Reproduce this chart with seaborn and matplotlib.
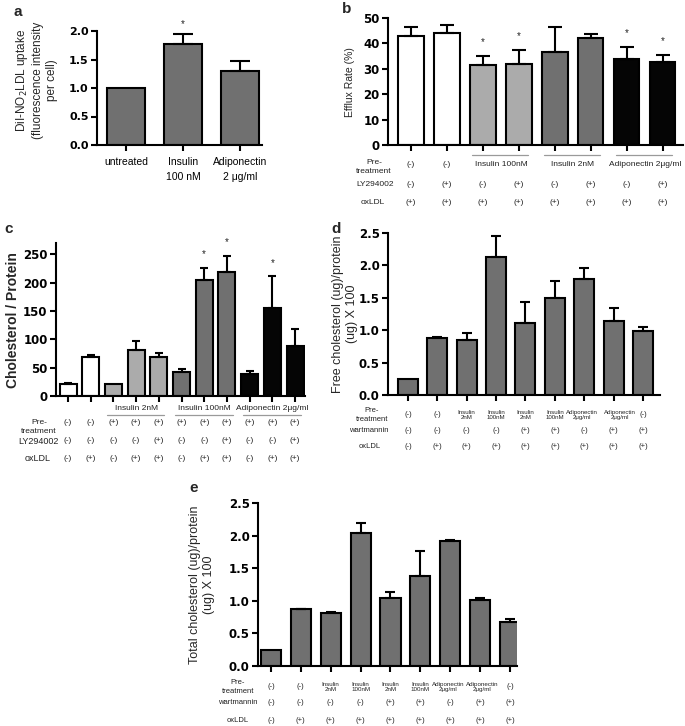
import numpy as np
import pandas as pd
import matplotlib
matplotlib.use("Agg")
import matplotlib.pyplot as plt
import matplotlib.transforms as mtransforms
from matplotlib.lines import Line2D
from matplotlib.ticker import FormatStrFormatter
import seaborn as sns

# ---- data ----
# panel a
a_labels = ["untreated", "Insulin\n100 nM", "Adiponectin\n2 μg/ml"]
a_mean = [1.0, 1.78, 1.30]
a_err = [0.0, 0.17, 0.18]
a_star = [False, True, False]

# panel b
b_mean = [43.0, 44.1, 31.6, 31.9, 36.6, 42.1, 33.9, 32.7]
b_err = [3.4, 3.3, 3.6, 5.6, 9.8, 1.6, 4.7, 2.9]
b_star = [False, False, True, True, False, False, True, True]
b_pre = ["(-)", "(-)", "", "", "", "", "", ""]
b_groups = [("Insulin 100nM", 2, 3), ("Insulin 2nM", 4, 5), ("Adiponectin 2μg/ml", 6, 7)]
b_ly = ["(-)", "(+)", "(-)", "(+)", "(-)", "(+)", "(-)", "(+)"]
b_ox = ["(+)", "(+)", "(+)", "(+)", "(+)", "(+)", "(+)", "(+)"]

# panel c
c_mean = [22, 68, 21, 82, 68, 42, 204, 218, 39, 156, 89]
c_err = [1, 4, 0, 15, 7, 5, 22, 29, 5, 55, 30]
c_star = [False, False, False, False, False, False, True, True, False, True, False]
c_pre = ["(-)", "(-)", "(+)", "(+)", "(+)", "(+)", "(+)", "(+)", "(+)", "(+)", "(+)"]
c_groups = [("Insulin 2nM", 2, 4), ("Insulin 100nM", 5, 7), ("Adiponectin 2μg/ml", 8, 10)]
c_ly = ["(-)", "(-)", "(-)", "(-)", "(+)", "(-)", "(-)", "(+)", "(-)", "(-)", "(+)"]
c_ox = ["(-)", "(+)", "(-)", "(+)", "(+)", "(-)", "(+)", "(+)", "(-)", "(+)", "(+)"]

# panel d
d_mean = [0.24, 0.88, 0.855, 2.13, 1.11, 1.49, 1.79, 1.14, 0.99]
d_err = [0.0, 0.01, 0.095, 0.33, 0.32, 0.27, 0.17, 0.21, 0.06]

# panel e
e_mean = [0.25, 0.87, 0.81, 2.04, 1.04, 1.38, 1.91, 1.01, 0.68]
e_err = [0.0, 0.005, 0.015, 0.16, 0.10, 0.38, 0.025, 0.03, 0.04]

de_pre = ["(-)", "(-)", "Insulin\n2nM", "Insulin\n100nM", "Insulin\n2nM", "Insulin\n100nM",
          "Adiponectin\n2μg/ml", "Adiponectin\n2μg/ml", "(-)"]
de_wort = ["(-)", "(-)", "(-)", "(-)", "(+)", "(+)", "(-)", "(+)", "(+)"]
de_ox = ["(-)", "(+)", "(+)", "(+)", "(+)", "(+)", "(+)", "(+)", "(+)"]

# ---- style ----
WHITE, LIGHT, DARK, BLACK = "#ffffff", "#ababab", "#707070", "#050505"
TXT = "#222222"

sns.set_theme(style="ticks", rc={"axes.edgecolor": "black", "xtick.color": "black",
                                 "ytick.color": "black", "axes.linewidth": 1.5})
plt.rcParams["font.family"] = ["Liberation Sans", "DejaVu Sans"]

W, H = 685, 726
fig = plt.figure(figsize=(W / 100, H / 100), dpi=100)


def add_ax(left, top, right, bottom):
    return fig.add_axes([left / W, 1 - bottom / H, (right - left) / W, (bottom - top) / H])


def draw_bars(ax, mean, err, colors, width, capsize, xlim, ylim, yticks, fmt=None,
              tick_size=8.5):
    n = len(mean)
    keys = [str(i) for i in range(n)]
    df = pd.DataFrame({"k": keys, "v": mean})
    sns.barplot(data=df, x="k", y="v", hue="k", order=keys, hue_order=keys,
                palette=dict(zip(keys, colors)), dodge=False, legend=False,
                width=width, edgecolor="black", linewidth=1.5, errorbar=None,
                saturation=1, ax=ax)
    pos = np.arange(n)
    e = np.array(err, dtype=float)
    m = e > 0
    ax.errorbar(pos[m], np.array(mean, dtype=float)[m],
                yerr=[np.zeros(m.sum()), e[m]], fmt="none", ecolor="black",
                elinewidth=1.5, capsize=capsize, capthick=1.5, zorder=3)
    ax.set_xlim(*xlim)
    ax.set_ylim(*ylim)
    ax.set_yticks(yticks)
    if fmt:
        ax.yaxis.set_major_formatter(FormatStrFormatter(fmt))
    ax.set_xlabel("")
    ax.set_ylabel("")
    sns.despine(ax=ax)
    ax.tick_params(axis="both", length=4, width=1.5)
    ax.tick_params(axis="y", labelsize=tick_size, pad=2)
    for t in ax.get_yticklabels():
        t.set_fontweight("bold")
        t.set_family("DejaVu Sans")
    ax.set_xticks(pos)
    ax.set_xticklabels([])


def stars(ax, mean, err, flags, offset):
    for i, f in enumerate(flags):
        if f:
            ax.text(i, mean[i] + err[i] + offset, "*", ha="center", va="center",
                    fontsize=7, color=TXT, clip_on=False)


def row(ax, y_px, labels, fs=6, ls=1.0, small=None, shift=None):
    tr = mtransforms.blended_transform_factory(ax.transData, fig.transFigure)
    shift = shift or {}
    for i, s in enumerate(labels):
        if s:
            size = small if (small and "\n" in s) else fs
            fig.text(i + shift.get(i, 0), 1 - y_px / H, s, transform=tr, ha="center",
                     va="center", fontsize=size, color=TXT, linespacing=ls)


def groups(ax, line_y, text_y, grp, fs=6):
    tr = mtransforms.blended_transform_factory(ax.transData, fig.transFigure)
    for name, i0, i1 in grp:
        fig.add_artist(Line2D([i0 - 0.3, i1 + 0.25], [1 - line_y / H] * 2, transform=tr,
                              color="#9a9a9a", lw=0.9))
        fig.text((i0 + i1) / 2, 1 - text_y / H, name, transform=tr, ha="center",
                 va="center", fontsize=fs, color=TXT)


def flabel(x, y, s, **kw):
    fig.text(x / W, 1 - y / H, s, ha="center", va="center", **kw)


# ---- panel a ----
ax_a = add_ax(97, 31, 262, 145)
draw_bars(ax_a, a_mean, a_err, [DARK] * 3, 0.67, 7, (-0.51, 2.39), (0, 2.0),
          [0, 0.5, 1.0, 1.5, 2.0], "%.1f", tick_size=8)
ax_a.set_xticklabels(a_labels, fontsize=7.5, linespacing=1.6)
ax_a.tick_params(axis="x", pad=4.5)
stars(ax_a, a_mean, a_err, a_star, 0.17)
flabel(36, 80, "DiI-NO$_2$LDL uptake\n(fluorescence intensity\nper cell)", rotation=90,
       fontsize=8.5, multialignment="center", linespacing=1.2)
flabel(18, 12, "a", fontsize=11, fontweight="bold")

# ---- panel b ----
ax_b = add_ax(388, 18, 683, 145)
b_cols = [WHITE, WHITE, LIGHT, LIGHT, DARK, DARK, BLACK, BLACK]
draw_bars(ax_b, b_mean, b_err, b_cols, 0.7, 5, (-0.64, 7.56), (0, 50),
          [0, 10, 20, 30, 40, 50])
stars(ax_b, b_mean, b_err, b_star, 5.5)
flabel(350, 82, "Efflux Rate (%)", rotation=90, fontsize=7.5)
flabel(347, 9, "b", fontsize=11, fontweight="bold")
row(ax_b, 165, b_pre)
groups(ax_b, 155, 165, b_groups)
row(ax_b, 185, b_ly)
row(ax_b, 203, b_ox)
flabel(374, 167, "Pre-\ntreatment", fontsize=6, color=TXT, linespacing=1.3)
flabel(375, 185, "LY294002", fontsize=6, color=TXT)
flabel(373, 203, "oxLDL", fontsize=6, color=TXT)

# ---- panel c ----
ax_c = add_ax(56, 243, 305, 396)
c_cols = [WHITE, WHITE, LIGHT, LIGHT, LIGHT, DARK, DARK, DARK, BLACK, BLACK, BLACK]
draw_bars(ax_c, c_mean, c_err, c_cols, 0.75, 3, (-0.53, 10.44), (0, 270),
          [0, 50, 100, 150, 200, 250])
stars(ax_c, c_mean, c_err, c_star, 24)
flabel(13, 320, "Cholesterol / Protein", rotation=90, fontsize=10, fontweight="bold")
flabel(9, 229, "c", fontsize=11, fontweight="bold")
groups(ax_c, 415, 409, c_groups)
row(ax_c, 423, c_pre)
row(ax_c, 441, c_ly)
row(ax_c, 458, c_ox)
flabel(39, 427, "Pre-\ntreatment", fontsize=6, color=TXT, linespacing=1.3)
flabel(38, 441, "LY294002", fontsize=6.5, color=TXT)
flabel(38, 458, "oxLDL", fontsize=6.5, color=TXT)

# ---- panel d ----
ax_d = add_ax(388, 233, 660, 395)
draw_bars(ax_d, d_mean, d_err, [DARK] * 9, 0.68, 3.5, (-0.68, 8.58), (0, 2.5),
          [0, 0.5, 1.0, 1.5, 2.0, 2.5], "%.1f")
flabel(345, 314, "Free cholesterol (ug)/protein\n(ug) X 100", rotation=90, fontsize=9,
       multialignment="center", linespacing=1.15)
flabel(336, 229, "d", fontsize=11, fontweight="bold")
row(ax_d, 415, de_pre, fs=5.5, small=4.4, ls=1.2, shift={6: -0.08, 7: 0.22})
row(ax_d, 430, de_wort, fs=5.5)
row(ax_d, 447, de_ox, fs=5.5)
flabel(372, 415, "Pre-\ntreatment", fontsize=5.5, color=TXT, linespacing=1.3)
flabel(369, 430, "wartmannin", fontsize=5.5, color=TXT)
flabel(370, 447, "oxLDL", fontsize=5.5, color=TXT)

# ---- panel e ----
ax_e = add_ax(258, 503, 517, 666)
draw_bars(ax_e, e_mean, e_err, [DARK] * 9, 0.67, 3.5, (-0.43, 8.23), (0, 2.5),
          [0, 0.5, 1.0, 1.5, 2.0, 2.5], "%.1f")
flabel(202, 585, "Total cholesterol (ug)/protein\n(ug) X 100", rotation=90, fontsize=9,
       multialignment="center", linespacing=1.15)
flabel(194, 488, "e", fontsize=11, fontweight="bold")
row(ax_e, 687, de_pre, fs=5.5, small=4.5, ls=1.2, shift={6: -0.06, 7: 0.06})
row(ax_e, 703, de_wort, fs=5.5)
row(ax_e, 720, de_ox, fs=5.5)
flabel(238, 687, "Pre-\ntreatment", fontsize=5.5, color=TXT, linespacing=1.3)
flabel(238, 703, "wartmannin", fontsize=5.5, color=TXT)
flabel(238, 720, "oxLDL", fontsize=5.5, color=TXT)

fig.savefig("out.png", dpi=100)
